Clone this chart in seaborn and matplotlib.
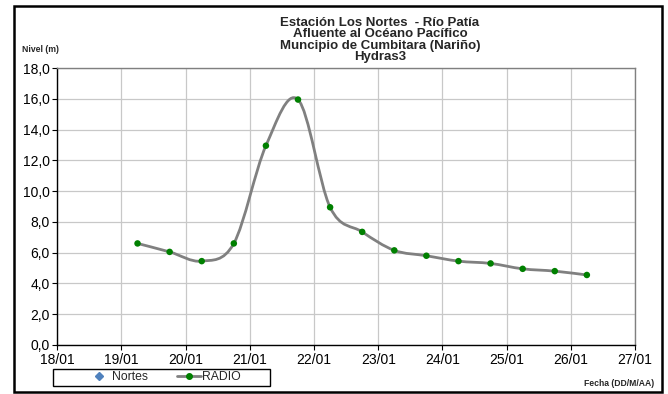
import pandas as pd
import matplotlib
matplotlib.use("Agg")
import matplotlib.pyplot as plt
import matplotlib.dates as mdates
from matplotlib.path import Path
from matplotlib.patches import PathPatch, Rectangle
from matplotlib.lines import Line2D
from matplotlib.ticker import FuncFormatter, MultipleLocator
import seaborn as sns
import numpy as np

# datos (cada 12 h)
fechas = ["19/01 06:00", "19/01 18:00", "20/01 06:00", "20/01 18:00", "21/01 06:00",
          "21/01 18:00", "22/01 06:00", "22/01 18:00", "23/01 06:00", "23/01 18:00",
          "24/01 06:00", "24/01 18:00", "25/01 06:00", "25/01 18:00", "26/01 06:00"]
nivel_radio = [6.6, 6.05, 5.45, 6.6, 12.95, 15.95, 8.95, 7.35, 6.15, 5.8,
               5.45, 5.3, 4.95, 4.8, 4.55]
nivel_nortes = []
titulo = ["Estación Los Nortes  - Río Patía", "Afluente al Océano Pacífico",
          "Muncipio de Cumbitara (Nariño)", "Hydras3"]

sns.set_style("white")
plt.rcParams['font.family'] = ['Liberation Sans', 'DejaVu Sans']

W, H = 668, 394
fig = plt.figure(figsize=(6.68, 3.94), dpi=100)
ax = fig.add_axes([57.3 / W, 1 - 345 / H, (635 - 57.3) / W, (345 - 68) / H])

x = mdates.date2num(pd.to_datetime(fechas, format="%d/%m %H:%M"))
y = np.array(nivel_radio)

# linea suavizada tipo Excel (bezier catmull-rom)
pts = np.column_stack([x, y])
n = len(pts)
verts = [pts[0]]
codes = [Path.MOVETO]
for i in range(n - 1):
    p0 = pts[i - 1] if i > 0 else pts[i]
    p1 = pts[i]
    p2 = pts[i + 1]
    p3 = pts[i + 2] if i + 2 < n else pts[i + 1]
    verts += [p1 + (p2 - p0) / 6, p2 - (p3 - p1) / 6, p2]
    codes += [Path.CURVE4] * 3
ax.add_patch(PathPatch(Path(verts, codes), fill=False, edgecolor='#808080', lw=2.0,
                       capstyle='round', joinstyle='round', zorder=3))
sns.scatterplot(x=x, y=y, color='#008000', s=22, edgecolor='none', ax=ax, zorder=4)

x0 = mdates.date2num(pd.to_datetime("18/01", format="%d/%m"))
x1 = mdates.date2num(pd.to_datetime("27/01", format="%d/%m"))
ax.set_xlim(x0, x1)
ax.set_ylim(0, 18)
ax.xaxis.set_major_locator(mdates.DayLocator())
ax.xaxis.set_major_formatter(mdates.DateFormatter("%d/%m"))
ax.yaxis.set_major_locator(MultipleLocator(2))
ax.yaxis.set_major_formatter(FuncFormatter(lambda v, p: f"{v:.1f}".replace('.', ',')))
ax.grid(True, color='#c8c8c8', lw=0.9)
ax.set_axisbelow(True)
ax.tick_params(axis='both', direction='out', length=3.5, width=0.8, labelsize=10,
               colors='black', pad=2)
ax.tick_params(left=True, bottom=True)
for s in ['left', 'bottom']:
    ax.spines[s].set_color('black')
    ax.spines[s].set_linewidth(1.0)
for s in ['top', 'right']:
    ax.spines[s].set_color('#808080')
    ax.spines[s].set_linewidth(1.0)
ax.set_xlabel('')
ax.set_ylabel('')

# titulo
for k, linea in enumerate(titulo):
    fig.text(380 / W, 1 - (22.5 + 11.5 * k) / H, linea, ha='center', va='center',
             fontsize=9.5, fontweight='bold')
fig.text(22 / W, 1 - 50 / H, "Nivel (m)", ha='left', va='center', fontsize=6.2, fontweight='bold')
fig.text(654 / W, 1 - 383 / H, "Fecha (DD/M/AA)", ha='right', va='center', fontsize=6.2,
         fontweight='bold')

# leyenda
fig.patches.append(Rectangle((52.7 / W, 1 - 385.7 / H), (270 - 52.7) / W, (385.7 - 369) / H,
                             transform=fig.transFigure, fill=False, edgecolor='black', lw=1.0))
h_nortes = Line2D([], [], linestyle='none', marker='D', color='#4F81BD', markersize=4)
h_radio = Line2D([], [], color='#808080', lw=2, marker='o', markerfacecolor='#008000',
                 markeredgecolor='#008000', markersize=4)
fig.legend([h_nortes, h_radio], ['Nortes', 'RADIO'], loc='center',
           bbox_to_anchor=(164 / W, 1 - 377.3 / H), ncol=2, frameon=False, fontsize=8.8,
           handlelength=1.9, handletextpad=0.15, columnspacing=2.4)

# borde exterior
fig.patches.append(Rectangle((14 / W, 1 - 392 / H), (662 - 14) / W, (392 - 5.5) / H,
                             transform=fig.transFigure, fill=False, edgecolor='black', lw=1.8))

fig.savefig('out.png', dpi=100)
